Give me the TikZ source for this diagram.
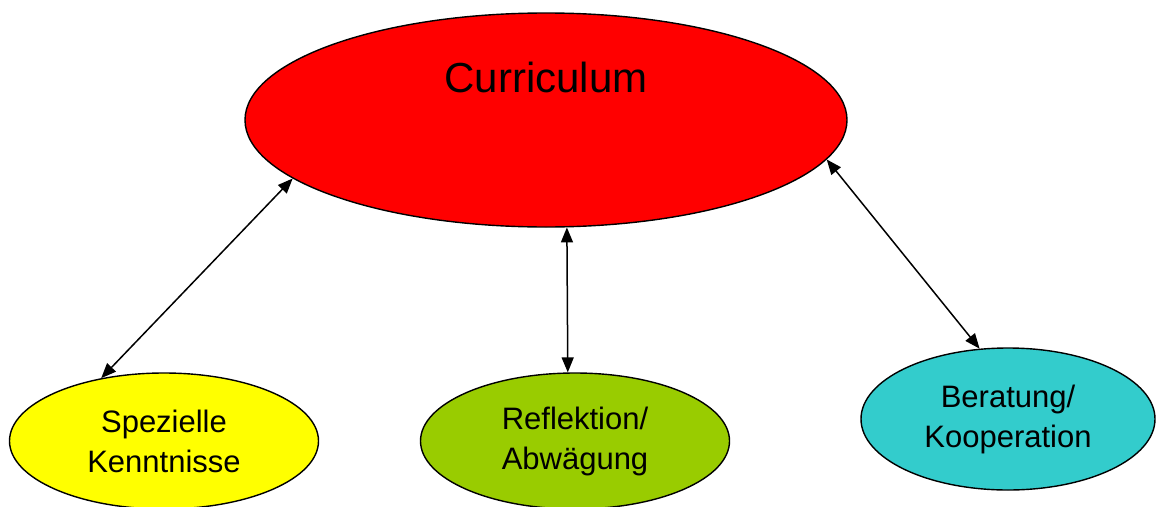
\documentclass[tikz,border=0pt]{standalone}
\usepackage{fontspec}
\setmainfont{Liberation Sans}
\usetikzlibrary{shapes.geometric,arrows.meta}

\definecolor{palRed}{HTML}{FF0000}
\definecolor{palYellow}{HTML}{FFFF00}
\definecolor{palGreen}{HTML}{99CC00}
\definecolor{palCyan}{HTML}{33CCCC}

\begin{document}
\begin{tikzpicture}[
    x=1pt, y=-1pt,
    blob/.style={ellipse, draw=black, line width=1.4pt, inner sep=0pt,
        minimum width=309pt, minimum height=136pt, align=center,
        font=\fontsize{31}{40}\selectfont},
    link/.style={{Triangle[length=15pt,width=12pt]}-{Triangle[length=15pt,width=12pt]},
        line width=1.5pt},
]
\useasboundingbox (0,0) rectangle (1156,506);

% Curriculum ellipse with its title in the upper half
\node[blob, fill=palRed, minimum width=602pt, minimum height=214pt]
    (curr) at (546,120) {};
\node[font=\fontsize{42}{50}\selectfont] (currlbl) at (546,77) {Curriculum};

% Lower ellipses
\node[blob, fill=palYellow] (spez) at (164,441) {Spezielle\\Kenntnisse};
\node[blob, fill=palGreen] (refl) at (575,441) {Reflektion/\\Abwägung};
\node[blob, fill=palCyan, minimum width=294pt, minimum height=142pt]
    (bera) at (1008,419) {Beratung/\\Kooperation};

% Double arrows
\draw[link] (curr.193.4) -- (spez.135);
\draw[link] (curr.281.5) -- (refl.96.3);
\draw[link] (curr.352) -- (bera.112.9);

\end{tikzpicture}
\end{document}
